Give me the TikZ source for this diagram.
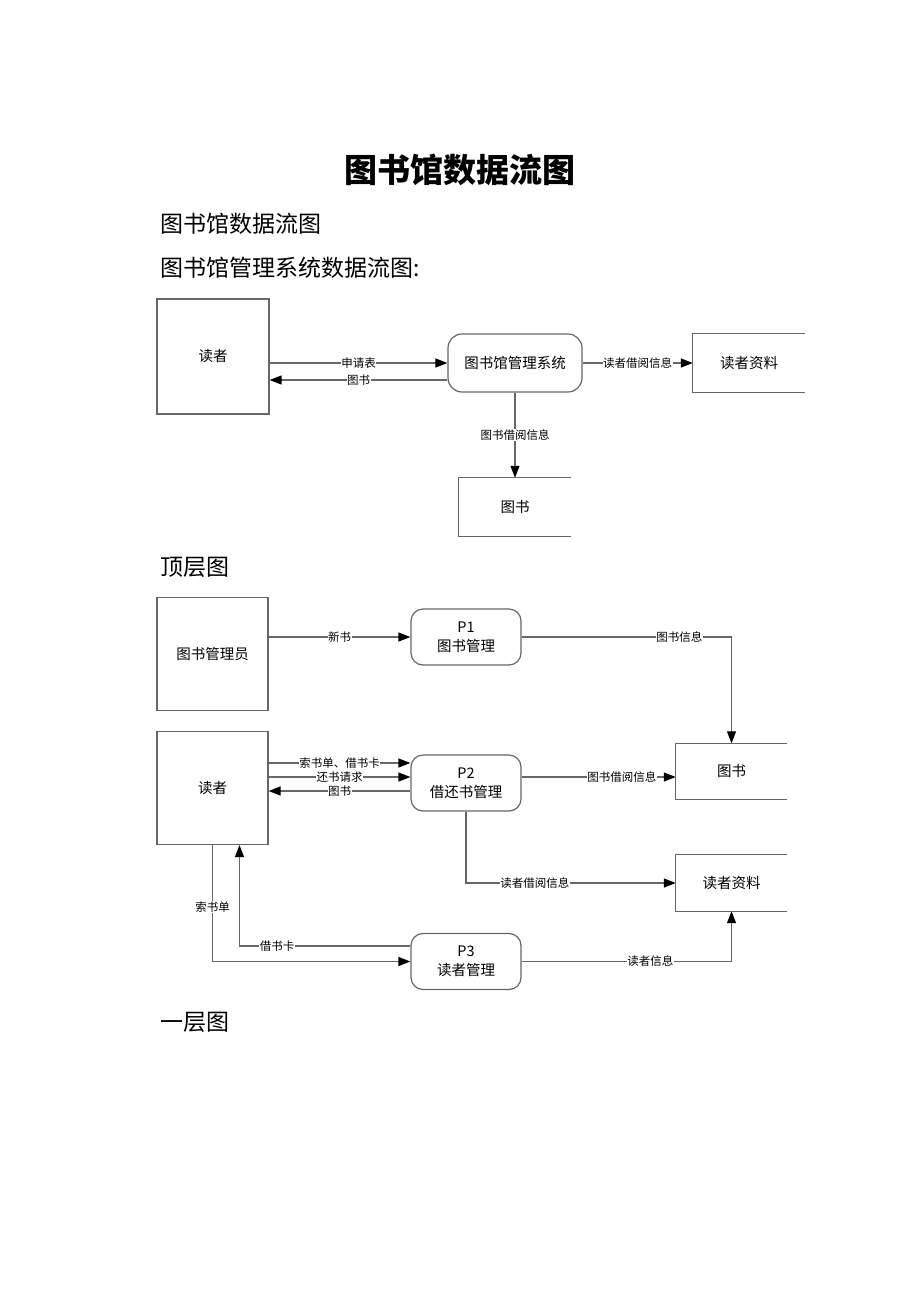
\documentclass[tikz,border=0pt]{standalone}
\usepackage{fontspec}
\setmainfont{Noto Sans CJK SC}
\usetikzlibrary{arrows.meta}

\begin{document}
\begin{tikzpicture}[x=1pt,y=-1pt]
    \tikzstyle{entity}=[draw=black!60,line width=1.2pt,minimum width=111pt,minimum height=113pt,font=\fontsize{14.5}{16}\selectfont]
    \tikzstyle{proc}=[draw=black!60,line width=1.2pt,rounded corners=12pt,minimum width=110pt,minimum height=56pt,align=center,font=\fontsize{14.5}{19}\selectfont]
    \tikzstyle{store}=[minimum width=111pt,minimum height=56pt,font=\fontsize{14.5}{16}\selectfont]
    \tikzstyle{flow}=[draw=black!60,line width=1.2pt,-{Triangle[length=12pt,width=9pt,color=black]}]
    \tikzstyle{lbl}=[fill=white,inner sep=0.5pt,font=\fontsize{11.5}{12}\selectfont]
    \tikzstyle{heading}=[anchor=west,font=\fontsize{23}{26}\selectfont]

    \useasboundingbox (0,0) rectangle (920,1302);

    \node[font=\fontsize{33}{36}\selectfont\bfseries] (title) at (460,170) {图书馆数据流图};
    \node[heading] (h1) at (157,224) {图书馆数据流图};
    \node[heading] (h2) at (157,268) {图书馆管理系统数据流图:};
    \node[heading] (h3) at (157,567) {顶层图};
    \node[heading] (h4) at (157,1022) {一层图};

    % top level diagram
    \node[entity,minimum width=112pt,minimum height=115pt] (reader) at (213,356.5) {读者};
    \node[proc,minimum width=134pt,minimum height=58pt,rounded corners=14pt] (sys) at (515,363) {图书馆管理系统};
    \node[store,minimum width=112pt,minimum height=58pt] (rinfo) at (749,363) {读者资料};
    \node[store,minimum width=112pt,minimum height=58pt] (books) at (515,507) {图书};

    \coordinate (s1) at ([yshift=-17pt]sys.west);
    \draw[flow] (reader.east |- sys.west) -- (sys.west) node[lbl,midway] {申请表};
    \draw[flow] (s1) -- (s1 -| reader.east) node[lbl,midway] {图书};
    \draw[flow] (sys.east) -- (rinfo.west) node[lbl,midway] {读者借阅信息};
    \draw[flow] (sys.south) -- (books.north) node[lbl,midway] {图书借阅信息};

    % level one diagram
    \node[entity] (admin) at (212.5,654) {图书管理员};
    \node[proc] (p1) at (466,637) {P1\\图书管理};
    \node[entity] (reader2) at (212.5,788) {读者};
    \node[proc] (p2) at (466,783) {P2\\借还书管理};
    \node[proc] (p3) at (466,961.5) {P3\\读者管理};
    \node[store] (books2) at (731.5,771.5) {图书};
    \node[store] (rinfo2) at (731.5,883) {读者资料};

    \coordinate (q1) at ([yshift=20pt]p2.west);
    \coordinate (q2) at ([yshift=6pt]p2.west);
    \coordinate (q3) at ([yshift=-8pt]p2.west);
    \coordinate (q4) at ([yshift=6pt]p2.east);
    \coordinate (q5) at ([yshift=15.5pt]p3.west);
    \coordinate (q6) at ([xshift=27pt]reader2.south);

    \draw[flow] (admin.east |- p1.west) -- (p1.west) node[lbl,midway] {新书};
    \draw[flow] (p1.east) -| (books2.north) node[lbl,pos=0.376] {图书信息};
    \draw[flow] (q1 -| reader2.east) -- (q1) node[lbl,midway] {索书单、借书卡};
    \draw[flow] (q2 -| reader2.east) -- (q2) node[lbl,midway] {还书请求};
    \draw[flow] (q3) -- (q3 -| reader2.east) node[lbl,midway] {图书};
    \draw[flow] (q4) -- (q4 -| books2.west) node[lbl,pos=0.65] {图书借阅信息};
    \draw[flow] (p2.south) |- (rinfo2.west) node[lbl,pos=0.664] {读者借阅信息};
    \draw[flow] (reader2.south) |- (p3.west) node[lbl,pos=0.267] {索书单};
    \draw[flow] (q5) -| (q6) node[lbl,pos=0.39] {借书卡};
    \draw[flow] (p3.east) -| (rinfo2.south) node[lbl,pos=0.307] {读者信息};

    % data stores, open on the right
    \foreach \s in {rinfo,books,books2,rinfo2}
        \draw[draw=black!60,line width=1.2pt] (\s.north east) -- (\s.north west) -- (\s.south west) -- (\s.south east);
\end{tikzpicture}
\end{document}
